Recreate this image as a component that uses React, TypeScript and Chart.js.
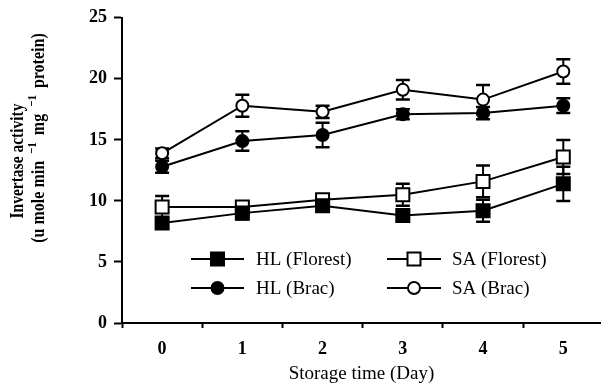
import React, { useEffect, useRef } from 'react';
import { Chart, registerables } from 'chart.js';

Chart.register(...registerables);

const days = [0, 1, 2, 3, 4, 5];
const xTickValues = [-0.5, 0, 0.5, 1, 1.5, 2, 2.5, 3, 3.5, 4, 4.5, 5];
const yTickStep = 5;

const hlFlorest = [8.2, 9.0, 9.6, 8.8, 9.2, 11.4];
const hlFlorestErr = [0.4, 0.5, 0.4, 0.4, 0.9, 1.4];
const saFlorest = [9.5, 9.5, 10.1, 10.5, 11.6, 13.6];
const saFlorestErr = [0.9, 0.3, 0.3, 0.9, 1.3, 1.4];
const hlBrac = [12.8, 14.9, 15.4, 17.1, 17.2, 17.8];
const hlBracErr = [0.5, 0.8, 1.0, 0.4, 0.5, 0.6];
const saBrac = [13.9, 17.8, 17.3, 19.1, 18.3, 20.6];
const saBracErr = [0.4, 0.9, 0.5, 0.8, 1.2, 1.0];

const seriesLabels = ['HL (Florest)', 'SA (Florest)', 'HL (Brac)', 'SA (Brac)'];

const FONT = "'Liberation Serif', 'Times New Roman', serif";

type Series = { label: string; values: number[]; errs: number[]; style: 'rect' | 'circle'; filled: boolean };

const series: Series[] = [
  { label: seriesLabels[0], values: hlFlorest, errs: hlFlorestErr, style: 'rect', filled: true },
  { label: seriesLabels[1], values: saFlorest, errs: saFlorestErr, style: 'rect', filled: false },
  { label: seriesLabels[2], values: hlBrac, errs: hlBracErr, style: 'circle', filled: true },
  { label: seriesLabels[3], values: saBrac, errs: saBracErr, style: 'circle', filled: false },
];

const errorBarPlugin = {
  id: 'errorBars',
  beforeDatasetsDraw(chart: any) {
    const ctx = chart.ctx;
    const xs = chart.scales.x;
    const ys = chart.scales.y;
    ctx.save();
    ctx.strokeStyle = '#000';
    series.forEach((s) => {
      s.values.forEach((v, i) => {
        const px = xs.getPixelForValue(days[i]);
        const top = ys.getPixelForValue(v + s.errs[i]);
        const bot = ys.getPixelForValue(v - s.errs[i]);
        ctx.lineWidth = 2;
        ctx.beginPath();
        ctx.moveTo(px, top);
        ctx.lineTo(px, bot);
        ctx.stroke();
        ctx.lineWidth = 2.5;
        ctx.beginPath();
        ctx.moveTo(px - 7, top);
        ctx.lineTo(px + 7, top);
        ctx.moveTo(px - 7, bot);
        ctx.lineTo(px + 7, bot);
        ctx.stroke();
      });
    });
    ctx.restore();
  },
};

function drawMarker(ctx: CanvasRenderingContext2D, s: Series, x: number, y: number) {
  ctx.save();
  ctx.lineWidth = 2;
  ctx.strokeStyle = '#000';
  ctx.fillStyle = s.filled ? '#000' : '#fff';
  ctx.beginPath();
  if (s.style === 'rect') {
    ctx.rect(x - 6.5, y - 6.5, 13, 13);
  } else {
    ctx.arc(x, y, 6, 0, Math.PI * 2);
  }
  ctx.fill();
  ctx.stroke();
  ctx.restore();
}

const legendPlugin = {
  id: 'innerLegend',
  afterDraw(chart: any) {
    const ctx = chart.ctx;
    const cols = [
      { x1: 191, x2: 244, tx: 256 },
      { x1: 387, x2: 441, tx: 452 },
    ];
    const rows = [259, 288];
    ctx.save();
    series.forEach((s, i) => {
      const c = cols[i % 2];
      const y = rows[Math.floor(i / 2)];
      ctx.strokeStyle = '#000';
      ctx.lineWidth = 2;
      ctx.beginPath();
      ctx.moveTo(c.x1, y);
      ctx.lineTo(c.x2, y);
      ctx.stroke();
      drawMarker(ctx, s, (c.x1 + c.x2) / 2, y);
      ctx.fillStyle = '#000';
      ctx.font = `19px ${FONT}`;
      ctx.textBaseline = 'middle';
      ctx.textAlign = 'left';
      ctx.fillText(s.label, c.tx, y + 1);
    });
    ctx.restore();
  },
};

const yTitlePlugin = {
  id: 'yTitle',
  afterDraw(chart: any) {
    const ctx = chart.ctx;
    ctx.save();
    ctx.fillStyle = '#000';
    ctx.textBaseline = 'middle';
    ctx.save();
    ctx.translate(18, 161);
    ctx.rotate(-Math.PI / 2);
    ctx.scale(1, 1.25);
    ctx.font = `bold 15.5px ${FONT}`;
    ctx.textAlign = 'center';
    ctx.fillText('Invertase activity', 0, 0);
    ctx.restore();
    const parts: { t: string; sup: boolean }[] = [
      { t: '(u mole min', sup: false },
      { t: '\u22121', sup: true },
      { t: 'mg', sup: false },
      { t: '\u22121', sup: true },
      { t: 'protein)', sup: false },
    ];
    const mainFont = `bold 16px ${FONT}`;
    const supFont = `bold 11px ${FONT}`;
    let total = 0;
    parts.forEach((p) => {
      ctx.font = p.sup ? supFont : mainFont;
      total += ctx.measureText(p.t).width;
    });
    const targetLen = 217;
    const gap = Math.min(Math.max((targetLen - total) / 4, 2), 7);
    const fullLen = total + gap * 4;
    ctx.save();
    ctx.translate(39, 138);
    ctx.rotate(-Math.PI / 2);
    ctx.scale(1, 1.2);
    ctx.textAlign = 'left';
    let cx = -fullLen / 2;
    parts.forEach((p, i) => {
      ctx.font = p.sup ? supFont : mainFont;
      ctx.fillText(p.t, cx, p.sup ? -5 : 0);
      cx += ctx.measureText(p.t).width + (i < parts.length - 1 ? gap : 0);
    });
    ctx.restore();
    ctx.restore();
  },
};

export default function App() {
  const ref = useRef<HTMLCanvasElement | null>(null);
  useEffect(() => {
    if (!ref.current) return;
    const chart = new Chart(ref.current, {
      type: 'line',
      data: {
        datasets: series.map((s) => ({
          label: s.label,
          data: s.values.map((v, i) => ({ x: days[i], y: v })),
          borderColor: '#000',
          borderWidth: 2,
          backgroundColor: s.filled ? '#000' : '#fff',
          pointBackgroundColor: s.filled ? '#000' : '#fff',
          pointBorderColor: '#000',
          pointBorderWidth: 2,
          pointStyle: s.style,
          pointRadius: s.style === 'rect' ? 9.2 : 6,
          tension: 0,
          fill: false,
          clip: false,
        })),
      },
      options: {
        animation: false,
        responsive: false,
        events: [],
        layout: { autoPadding: false, padding: { top: 15, right: 0, left: 0, bottom: 0 } },
        plugins: { legend: { display: false }, tooltip: { enabled: false } },
        scales: {
          x: {
            type: 'linear',
            min: -0.5,
            max: 5.47,
            afterBuildTicks: (s: any) => {
              s.ticks = xTickValues.map((v) => ({ value: v }));
            },
            afterFit: (s: any) => {
              s.height = 65;
            },
            ticks: {
              autoSkip: false,
              maxRotation: 0,
              color: '#000',
              padding: 11,
              font: { family: FONT, size: 18, weight: 'bold' },
              callback: (v: any) => (Number.isInteger(v) ? String(v) : ''),
            },
            grid: {
              drawOnChartArea: false,
              tickLength: 5,
              tickWidth: 2,
              tickColor: (c: any) => (Number.isInteger(c.tick?.value) ? 'rgba(0,0,0,0)' : '#000'),
            },
            border: { color: '#000', width: 2 },
            title: {
              display: true,
              text: 'Storage time (Day)',
              color: '#000',
              font: { family: FONT, size: 19, weight: 'normal' },
              padding: { top: 0, bottom: 3 },
            },
          },
          y: {
            min: 0,
            max: 25,
            afterFit: (s: any) => {
              s.width = 122;
            },
            ticks: {
              stepSize: yTickStep,
              color: '#000',
              padding: 7,
              font: { family: FONT, size: 18, weight: 'bold' },
            },
            grid: { drawOnChartArea: false, tickLength: 8, tickWidth: 2, tickColor: '#000' },
            border: { color: '#000', width: 2 },
          },
        },
      },
      plugins: [errorBarPlugin, legendPlugin, yTitlePlugin],
    } as any);
    return () => chart.destroy();
  }, []);
  return (
    <canvas
      ref={ref}
      width={601}
      height={388}
      style={{ position: 'absolute', left: 0, top: 0, width: 601, height: 388, display: 'block' }}
    />
  );
}
